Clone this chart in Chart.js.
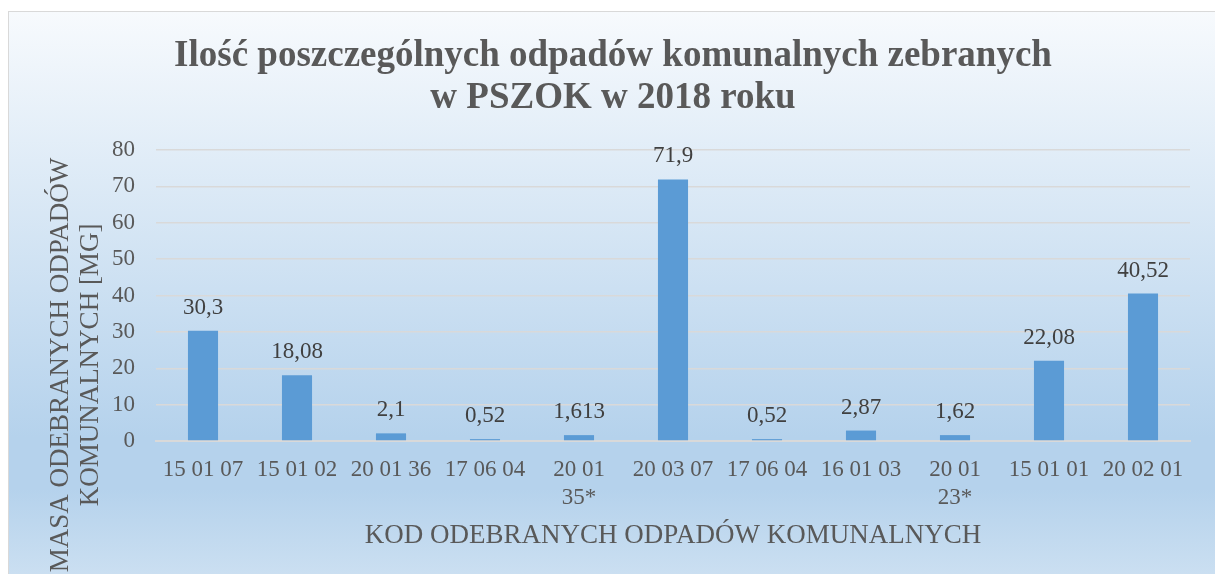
<!DOCTYPE html>
<html>
<head>
<meta charset="utf-8">
<title>Ilość odpadów PSZOK 2018</title>
<script src="https://cdn.jsdelivr.net/npm/chart.js"></script>
<style>
  html, body { margin: 0; padding: 0; width: 1215px; height: 574px; overflow: hidden; background: #fff; }
  #box {
    position: absolute; left: 8px; top: 11px; width: 1220px; height: 575px;
    border-top: 1px solid #d9d9d9; border-left: 1px solid #d9d9d9;
    background: linear-gradient(to bottom, #f7fafd 0%, #b5d2ec 74%, #b5d2ec 83%, #cee1f2 100%);
  }
  #chart { position: absolute; left: 0; top: 0; }
</style>
</head>
<body>
<div id="box"></div>
<canvas id="chart" width="1215" height="574"></canvas>
<script>
// data
var categories = ['15 01 07', '15 01 02', '20 01 36', '17 06 04', ['20 01', '35*'], '20 03 07',
                  '17 06 04', '16 01 03', ['20 01', '23*'], '15 01 01', '20 02 01'];
var values = [30.3, 18.08, 2.1, 0.52, 1.613, 71.9, 0.52, 2.87, 1.62, 22.08, 40.52];
var yTicks = [0, 10, 20, 30, 40, 50, 60, 70, 80];

var titleLines = ['Ilość poszczególnych odpadów komunalnych zebranych', 'w PSZOK w 2018 roku'];
var xTitle = 'KOD ODEBRANYCH ODPADÓW KOMUNALNYCH';
var yTitleLines = ['MASA ODEBRANYCH ODPADÓW', 'KOMUNALNYCH [MG]'];

var serif = '"Liberation Serif", "Times New Roman", serif';
var textGrey = '#595959';

function formatPl(v) {
    return String(v).replace('.', ',');
}

// titles and value labels, drawn on top of the chart
var textPlugin = {
    id: 'texts',
    afterDraw: function(chart) {
        var ctx = chart.ctx;
        var area = chart.chartArea;
        ctx.save();

        // main title
        ctx.fillStyle = textGrey;
        ctx.textAlign = 'center';
        ctx.textBaseline = 'alphabetic';
        ctx.font = 'bold 37px ' + serif;
        ctx.fillText(titleLines[0], 613, 66);
        ctx.fillText(titleLines[1], 613, 108);

        // x axis title
        ctx.font = '27px ' + serif;
        ctx.fillText(xTitle, (area.left + area.right) / 2, 543);

        // y axis title, rotated
        ctx.save();
        ctx.translate(68, 365);
        ctx.rotate(-Math.PI / 2);
        ctx.fillText(yTitleLines[0], 0, 0);
        ctx.fillText(yTitleLines[1], 0, 30);
        ctx.restore();

        // value labels above bars
        ctx.fillStyle = '#404040';
        ctx.font = '23px ' + serif;
        var meta = chart.getDatasetMeta(0);
        meta.data.forEach(function(bar, i) {
            ctx.fillText(formatPl(values[i]), bar.x, bar.y - 17);
        });
        ctx.restore();
    }
};

var tickFont = { family: serif, size: 23, lineHeight: 1.22 };

new Chart(document.getElementById('chart'), {
    type: 'bar',
    data: {
        labels: categories,
        datasets: [{
            data: values,
            backgroundColor: '#5b9bd5',
            barPercentage: 0.32,
            categoryPercentage: 1.0
        }]
    },
    options: {
        responsive: false,
        animation: false,
        layout: { padding: { top: 150, right: 25, left: 0, bottom: 0 } },
        plugins: {
            legend: { display: false },
            tooltip: { enabled: false }
        },
        scales: {
            x: {
                grid: { display: false, drawTicks: false },
                border: { display: true, color: '#d9d9d9', width: 2 },
                ticks: { font: tickFont, color: textGrey, padding: 15, maxRotation: 0, autoSkip: false },
                afterFit: function(s) { s.height = 133; }
            },
            y: {
                min: 0,
                max: 80,
                afterBuildTicks: function(s) {
                    s.ticks = yTicks.map(function(v) { return { value: v }; });
                },
                grid: { color: '#d9d9d9', lineWidth: 1.5, drawTicks: false },
                border: { display: false },
                ticks: { font: tickFont, color: textGrey, padding: 21 },
                afterFit: function(s) { s.width = 156; }
            }
        }
    },
    plugins: [textPlugin]
});
</script>
</body>
</html>
